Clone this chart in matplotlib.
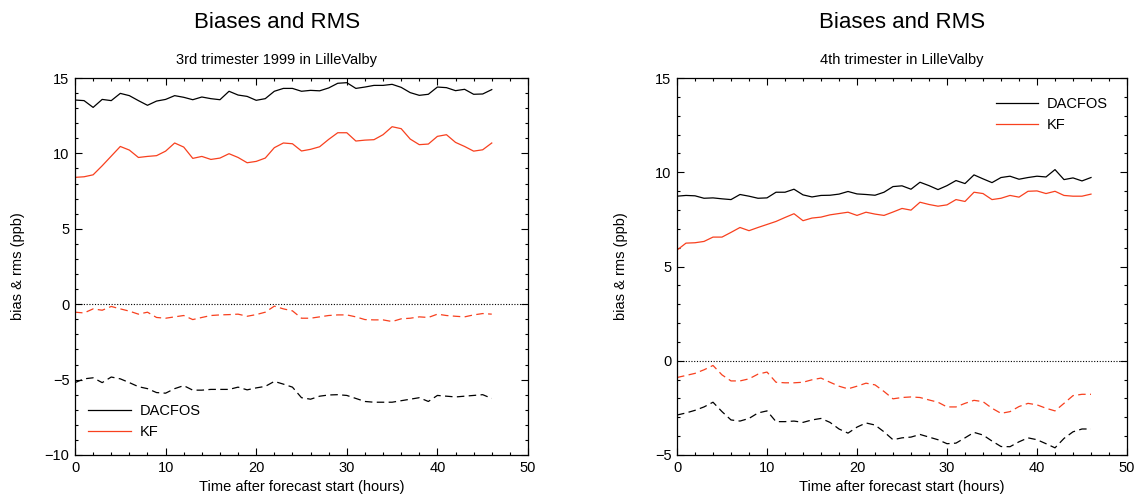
import numpy as np
import matplotlib
matplotlib.use("Agg")
import matplotlib.pyplot as plt
from matplotlib.ticker import MultipleLocator

plt.rcParams['font.family'] = ['Liberation Sans', 'DejaVu Sans']

hours = list(range(47))

# 3rd trimester 1999
q3_dacfos_rms = [13.54, 13.50, 13.05, 13.58, 13.50, 13.98, 13.83, 13.50, 13.19, 13.47,
                 13.58, 13.83, 13.72, 13.56, 13.74, 13.63, 13.56, 14.12, 13.87, 13.78,
                 13.52, 13.63, 14.12, 14.31, 14.31, 14.12, 14.18, 14.15, 14.34, 14.65,
                 14.69, 14.31, 14.40, 14.51, 14.51, 14.58, 14.38, 14.03, 13.85, 13.92,
                 14.40, 14.36, 14.16, 14.25, 13.92, 13.94, 14.23]
q3_kf_rms = [8.41, 8.45, 8.58, 9.18, 9.82, 10.46, 10.22, 9.73, 9.80, 9.85,
             10.15, 10.69, 10.42, 9.67, 9.80, 9.60, 9.69, 9.98, 9.73, 9.38,
             9.47, 9.69, 10.38, 10.69, 10.64, 10.16, 10.27, 10.44, 10.93, 11.37,
             11.37, 10.82, 10.88, 10.91, 11.24, 11.77, 11.64, 10.95, 10.58, 10.62,
             11.13, 11.24, 10.73, 10.46, 10.15, 10.24, 10.69]
q3_dacfos_bias = [-5.20, -4.95, -4.88, -5.20, -4.83, -4.95, -5.20, -5.47, -5.60, -5.86,
                  -5.90, -5.60, -5.40, -5.70, -5.70, -5.65, -5.65, -5.65, -5.50, -5.68,
                  -5.55, -5.45, -5.12, -5.30, -5.50, -6.20, -6.30, -6.10, -6.02, -6.00,
                  -6.05, -6.25, -6.45, -6.50, -6.50, -6.50, -6.40, -6.30, -6.20, -6.45,
                  -6.05, -6.10, -6.15, -6.10, -6.05, -6.00, -6.25]
q3_kf_bias = [-0.53, -0.58, -0.31, -0.40, -0.15, -0.31, -0.46, -0.66, -0.53, -0.88,
              -0.93, -0.84, -0.75, -1.02, -0.88, -0.75, -0.71, -0.69, -0.66, -0.80,
              -0.69, -0.53, -0.13, -0.31, -0.44, -0.93, -0.93, -0.84, -0.75, -0.71,
              -0.71, -0.84, -1.02, -1.04, -1.04, -1.15, -0.97, -0.93, -0.84, -0.88,
              -0.66, -0.75, -0.80, -0.84, -0.71, -0.62, -0.66]

# 4th trimester
q4_dacfos_rms = [8.73, 8.77, 8.75, 8.62, 8.64, 8.59, 8.55, 8.82, 8.73, 8.62,
                 8.64, 8.94, 8.94, 9.10, 8.80, 8.69, 8.77, 8.78, 8.84, 8.98,
                 8.85, 8.82, 8.78, 8.94, 9.24, 9.28, 9.10, 9.47, 9.29, 9.08,
                 9.29, 9.56, 9.40, 9.86, 9.65, 9.45, 9.72, 9.79, 9.63, 9.72,
                 9.79, 9.75, 10.14, 9.61, 9.70, 9.54, 9.72]
q4_kf_rms = [5.87, 6.24, 6.26, 6.33, 6.56, 6.56, 6.81, 7.07, 6.90, 7.07,
             7.23, 7.39, 7.60, 7.80, 7.43, 7.57, 7.62, 7.74, 7.81, 7.88,
             7.71, 7.88, 7.78, 7.71, 7.89, 8.08, 7.99, 8.41, 8.29, 8.20,
             8.27, 8.55, 8.45, 8.94, 8.87, 8.55, 8.62, 8.77, 8.68, 8.99,
             9.01, 8.87, 8.99, 8.77, 8.73, 8.73, 8.84]
q4_dacfos_bias = [-2.88, -2.77, -2.63, -2.45, -2.20, -2.70, -3.14, -3.20, -3.06, -2.77,
                  -2.66, -3.23, -3.23, -3.20, -3.27, -3.14, -3.06, -3.27, -3.62, -3.84,
                  -3.52, -3.30, -3.41, -3.77, -4.19, -4.09, -4.05, -3.91, -4.05, -4.19,
                  -4.40, -4.37, -4.09, -3.80, -3.94, -4.26, -4.55, -4.56, -4.30, -4.09,
                  -4.19, -4.40, -4.62, -4.12, -3.77, -3.62, -3.62]
q4_kf_bias = [-0.89, -0.78, -0.67, -0.48, -0.25, -0.75, -1.07, -1.07, -0.96, -0.71,
              -0.60, -1.14, -1.17, -1.17, -1.14, -1.01, -0.92, -1.14, -1.35, -1.49,
              -1.35, -1.19, -1.28, -1.63, -2.02, -1.95, -1.92, -1.95, -2.08, -2.20,
              -2.45, -2.45, -2.26, -2.10, -2.17, -2.52, -2.79, -2.70, -2.43, -2.26,
              -2.34, -2.52, -2.66, -2.26, -1.85, -1.78, -1.78]

RED = '#f8401e'
LW = 0.9
DASH = (0, (6, 3.5))

fig = plt.figure(figsize=(11.36, 4.99), dpi=100)
W, H = 1136, 499


def make_axes(x0, x1, y0, y1):
    return fig.add_axes([x0 / W, 1 - y1 / H, (x1 - x0) / W, (y1 - y0) / H])


def style(ax, ylim, ylabelpad):
    ax.set_xlim(0, 50)
    ax.set_ylim(*ylim)
    ax.xaxis.set_major_locator(MultipleLocator(10))
    ax.xaxis.set_minor_locator(MultipleLocator(2))
    ax.yaxis.set_major_locator(MultipleLocator(5))
    ax.yaxis.set_minor_locator(MultipleLocator(1))
    ax.tick_params(which='both', direction='in', top=True, right=True,
                   labelsize=10.5, width=0.8, pad=4)
    ax.tick_params(which='major', length=5)
    ax.tick_params(which='minor', length=2.5)
    for s in ax.spines.values():
        s.set_linewidth(0.9)
    ax.axhline(0, color='black', lw=0.8, ls=(0, (1, 1.5)))
    ax.set_xlabel('Time after forecast start (hours)', fontsize=10.5, labelpad=4)
    ax.set_ylabel('bias & rms (ppb)', fontsize=10.5, labelpad=ylabelpad)


legend_kw = dict(frameon=False, fontsize=10.5, handlelength=2.9,
                 handletextpad=0.6, labelspacing=0.45, borderpad=0.0)

# Left: 3rd trimester 1999
ax1 = make_axes(75, 528, 78, 455)
style(ax1, (-10, 15), 14)
ax1.plot(hours, q3_dacfos_rms, color='black', lw=LW, label='DACFOS')
ax1.plot(hours, q3_kf_rms, color=RED, lw=LW, label='KF')
ax1.plot(hours, q3_dacfos_bias, color='black', lw=LW, ls=DASH)
ax1.plot(hours, q3_kf_bias, color=RED, lw=LW, ls=DASH)
ax1.legend(loc='lower left', bbox_to_anchor=(6 / 453, 9 / 377), **legend_kw)

# Right: 4th trimester
ax2 = make_axes(677, 1127, 78, 455)
style(ax2, (-5, 15), 19)
ax2.plot(hours, q4_dacfos_rms, color='black', lw=LW, label='DACFOS')
ax2.plot(hours, q4_kf_rms, color=RED, lw=LW, label='KF')
ax2.plot(hours, q4_dacfos_bias, color='black', lw=LW, ls=DASH)
ax2.plot(hours, q4_kf_bias, color=RED, lw=LW, ls=DASH)
ax2.legend(loc='upper right', bbox_to_anchor=(1 - 12 / 450, 1 - 12 / 377), **legend_kw)

fig.text(277 / W, 1 - 23 / H, 'Biases and RMS', ha='center', va='center', fontsize=16)
fig.text(277 / W, 1 - 60 / H, '3rd trimester 1999 in LilleValby',
         ha='center', va='center', fontsize=10.5)
fig.text(902 / W, 1 - 23 / H, 'Biases and RMS', ha='center', va='center', fontsize=16)
fig.text(902 / W, 1 - 60 / H, '4th trimester in LilleValby',
         ha='center', va='center', fontsize=10.5)

fig.savefig('out.png', dpi=100)
